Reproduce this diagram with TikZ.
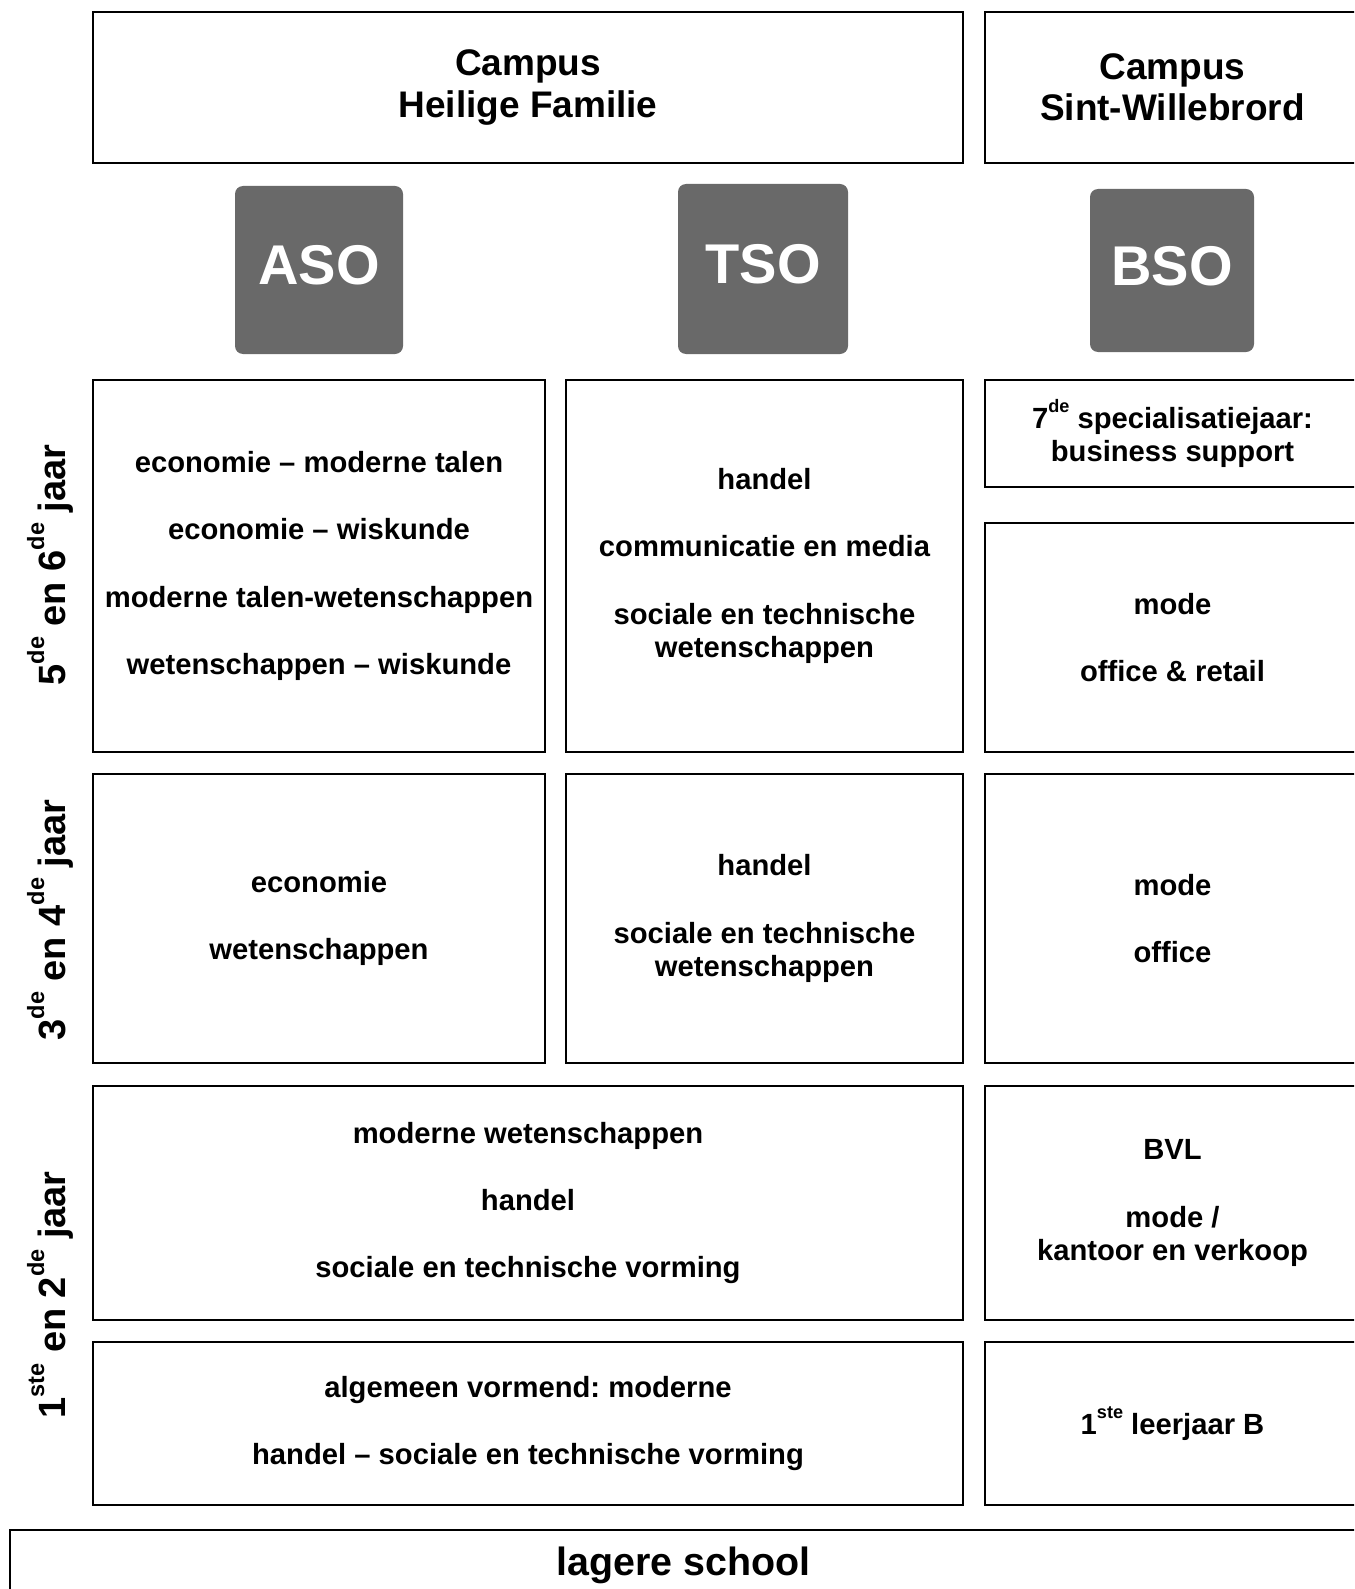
\documentclass[tikz,border=0pt]{standalone}
\usepackage{fontspec}
\setmainfont{Liberation Sans}
\frenchspacing
\definecolor{badgegray}{HTML}{696969}
\newcommand{\bodyf}{\fontsize{14.6pt}{16.7pt}\selectfont\bfseries\frenchspacing}
\newcommand{\headf}{\fontsize{18.5pt}{20.75pt}\selectfont\bfseries}
\newcommand{\badgef}{\fontsize{28pt}{30pt}\selectfont\bfseries}
\newcommand{\labf}{\fontsize{19pt}{21pt}\selectfont\bfseries}
\newcommand{\schoolf}{\fontsize{19.7pt}{22pt}\selectfont\bfseries}
\newcommand{\gap}{\\[17pt]}
\newcommand{\supx}[1]{\raisebox{0.55em}{\scalebox{0.62}{#1}}}
\tikzset{
  cell/.style={draw, line width=1pt, inner sep=0pt, align=center, font=\bodyf},
  headcell/.style={cell, font=\headf, minimum height=75.5pt},
  wideW/.style={minimum width=435pt},
  aW/.style={minimum width=226pt},
  tW/.style={minimum width=198.5pt},
  bW/.style={minimum width=187.5pt},
  badge/.style={fill=badgegray, rounded corners=4pt, text=white, font=\badgef, inner sep=0pt, text depth=5pt},
  yearlab/.style={rotate=90, font=\labf, inner sep=0pt}
}
\begin{document}
\begin{tikzpicture}[x=0.5pt,y=-0.5pt]
\useasboundingbox (0,0) rectangle (1354,1589);
\clip (0,0) rectangle (1354,1589);
% headers
\node[headcell, wideW] (hf) at (528,87.5) {Campus\\Heilige Familie};
\node[headcell, bW] (sw) at (1172.5,87.5) {Campus\\Sint-Willebrord};
% badges
\node[badge, minimum width=84pt, minimum height=84pt] (aso) at (319,270) {ASO};
\node[badge, minimum width=85pt, minimum height=85pt] (tso) at (763,269) {TSO};
\node[badge, minimum width=82pt, minimum height=81.5pt] (bso) at (1172,270.5) {BSO};
% row 5-6
\node[cell, aW, minimum height=186pt] (a56) at (319,566) {economie -- moderne talen\gap economie -- wiskunde\gap moderne talen-wetenschappen\gap wetenschappen -- wiskunde};
\node[cell, tW, minimum height=186pt] (t56) at (764.5,566) {handel\gap communicatie en media\gap sociale en technische\\wetenschappen};
\node[cell, bW, minimum height=53.5pt] (b7) at (1172.5,433.5) {7\supx{de} specialisatiejaar:\\business support};
\node[cell, bW, minimum height=114.5pt] (b56) at (1172.5,637.5) {mode\gap office \& retail};
% row 3-4
\node[cell, aW, minimum height=144.5pt] (a34) at (319,918.5) {economie\gap wetenschappen};
\node[cell, tW, minimum height=144.5pt] (t34) at (764.5,918.5) {handel\gap sociale en technische\\wetenschappen};
\node[cell, bW, minimum height=144.5pt] (b34) at (1172.5,918.5) {mode\gap office};
% row 1-2
\node[cell, wideW, minimum height=117pt] (h12) at (528,1203) {moderne wetenschappen\gap handel\gap sociale en technische vorming};
\node[cell, bW, minimum height=117pt] (b12) at (1172.5,1203) {BVL\gap mode /\\kantoor en verkoop};
\node[cell, wideW, minimum height=81.5pt] (h1) at (528,1423.5) {algemeen vormend: moderne\gap handel -- sociale en technische vorming};
\node[cell, bW, minimum height=81.5pt] (b1) at (1172.5,1423.5) {1\supx{ste} leerjaar B};
% lagere school
\node[cell, font=\schoolf, minimum width=673.5pt, minimum height=35pt] (ls) at (683.5,1565) {lagere school};
% year labels
\node[yearlab] (y56) at (50,565) {5\supx{de} en 6\supx{de} jaar};
\node[yearlab] (y34) at (50,920) {3\supx{de} en 4\supx{de} jaar};
\node[yearlab] (y12) at (50,1295) {1\supx{ste} en 2\supx{de} jaar};
\end{tikzpicture}
\end{document}
